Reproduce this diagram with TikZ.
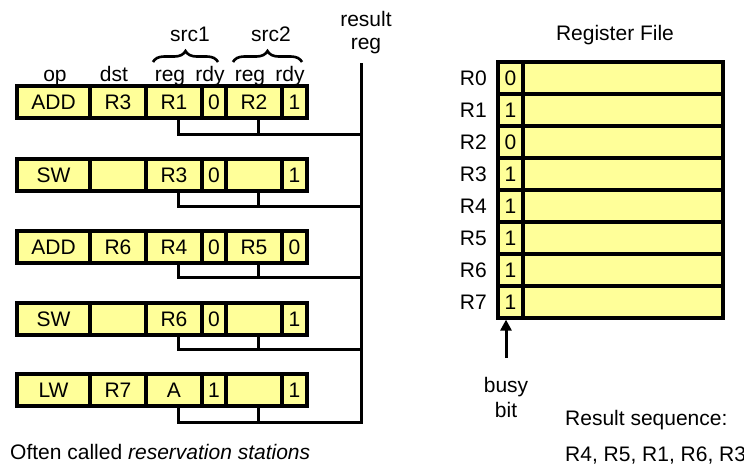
\documentclass[tikz,border=0pt]{standalone}
\usepackage{fontspec}
\setmainfont{Liberation Sans}
\usetikzlibrary{decorations.pathreplacing,arrows.meta}
\definecolor{cellfill}{HTML}{FFFF99}
\begin{document}
\begin{tikzpicture}[x=1pt,y=-1pt,
  every node/.style={font=\fontsize{21}{25}\selectfont},
  cell/.style={draw, line width=3.2pt, fill=cellfill, minimum height=32pt, inner sep=0pt, text height=15pt, text depth=0pt},
  wire/.style={line width=3pt},
  lbl/.style={anchor=base, inner sep=0pt},
  bracestyle/.style={decorate, decoration={brace, amplitude=11pt}, line width=2.6pt}]
\useasboundingbox (0,0) rectangle (744,467);

% column headers
\node[lbl] (hop)   at (55,81)  {op};
\node[lbl] (hdst)  at (114,81) {dst};
\node[lbl] (hreg1) at (170,81) {reg};
\node[lbl] (hrdy1) at (210,81) {rdy};
\node[lbl] (hreg2) at (250,81) {reg};
\node[lbl] (hrdy2) at (290,81) {rdy};
\node[lbl] (hsrc1) at (190,41.5) {src1};
\node[lbl] (hsrc2) at (271,41.5) {src2};
\draw[bracestyle] (153,62) -- (218,62);
\draw[bracestyle] (233,62) -- (302,62);
\node[lbl] (hres1) at (366,26) {result};
\node[lbl] (hres2) at (366,49) {reg};

% reservation station rows
\foreach \r/\y/\w/\a/\b/\c/\d/\e/\f in {
  1/102/134/ADD/R3/R1/0/R2/1,
  2/175/206/SW//R3/0//1,
  3/247/277/ADD/R6/R4/0/R5/0,
  4/319/349/SW//R6/0//1,
  5/390/422/LW/R7/A/1//1}{
  \node[cell, minimum width=73pt] (op\r)   at (53.5,\y) {\a};
  \node[cell, minimum width=56pt] (dst\r)  at (118,\y)  {\b};
  \node[cell, minimum width=56pt] (rega\r) at (174,\y)  {\c};
  \node[cell, minimum width=24pt] (rdya\r) at (214,\y)  {\d};
  \node[cell, minimum width=56pt] (regb\r) at (254,\y)  {\e};
  \node[cell, minimum width=25pt] (rdyb\r) at (294.5,\y) {\f};
  \coordinate (bus\r) at (361,\w);
  \draw[wire] ([xshift=4pt]regb\r.south) -- ([xshift=4pt]regb\r.south |- bus\r);
}
\coordinate (bustop) at (361,63);
\foreach \r in {1,2,3,4}{
  \draw[wire] ([xshift=4pt]rega\r.south) |- (bus\r);
}
\draw[wire] (bustop) -- (bus5) -| ([xshift=4pt]rega5.south);

\node[anchor=base west, inner sep=0pt] (often) at (10,459) {Often called \textit{reservation stations}};

% register file
\node[lbl] (rftitle) at (615,40.5) {Register File};
\foreach \i/\v in {0/0,1/1,2/0,3/1,4/1,5/1,6/1,7/1}{
  \pgfmathsetmacro{\yy}{78+32*\i}
  \node[cell, minimum width=25pt] (busy\i) at (510.5,\yy) {\v};
  \node[cell, minimum width=200pt] (val\i) at (623,\yy) {};
  \node[anchor=base east, inner sep=0pt] (rl\i) at (487,\yy+7.5) {R\i};
}
\coordinate (arrowstart) at (506,358);
\draw[line width=3pt, -{Triangle[length=11pt,width=11pt]}] (arrowstart) -- (arrowstart |- busy7.south);
\node[align=center, inner sep=0pt, anchor=base] (busylbl) at (506,417) {busy\\bit};
\node[anchor=base west, inner sep=0pt] (rseq) at (565,425) {Result sequence:};
\node[anchor=base west, inner sep=0pt] (rseqv) at (565,461) {R4, R5, R1, R6, R3};
\end{tikzpicture}
\end{document}
